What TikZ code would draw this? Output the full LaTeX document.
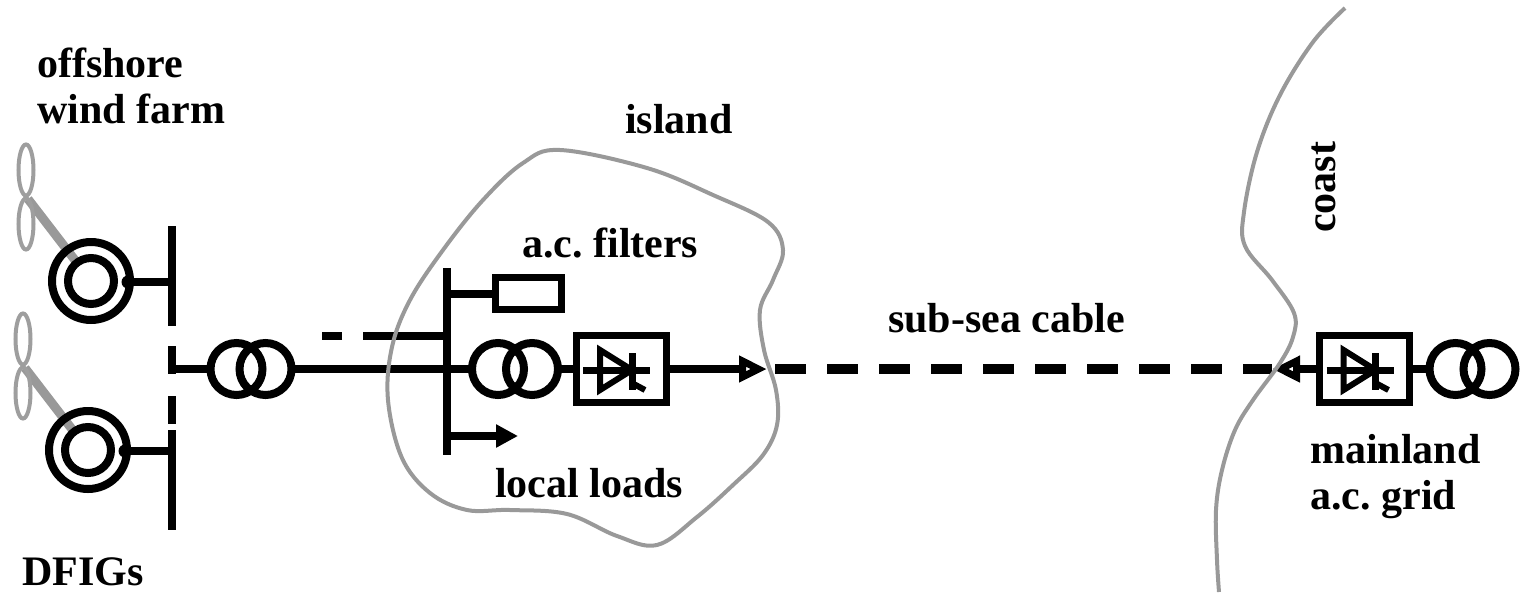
\documentclass[tikz,border=0pt]{standalone}
\usepackage{fontspec}
\setmainfont{Liberation Serif}
\usetikzlibrary{arrows.meta,positioning,calc}

\tikzset{
  pwr/.style={line width=8pt},
  shore/.style={draw=black!40, line width=4pt},
  lbl/.style={font=\fontsize{42}{46}\selectfont\bfseries\frenchspacing, inner sep=0pt, align=left},
  convbox/.style={draw, line width=7pt, minimum width=90pt, minimum height=67pt, inner sep=0pt},
  filtbox/.style={draw, line width=7pt, minimum width=66pt, minimum height=32pt, inner sep=0pt},
  cable/.style={line width=10pt, dash pattern=on 31pt off 21pt, dash phase=44pt},
  opentip/.style={-{Triangle[open, length=28pt, width=25pt, line width=9pt]}},
  % two coupled windings, #1 = half the spacing of the circles
  pics/xfmr/.style={code={
    \draw[pwr] (-#1,0) circle (26pt) (#1,0) circle (26pt);
    \coordinate (-w) at ({-#1-26},0);
    \coordinate (-e) at ({#1+26},0);
  }},
  % thyristor valve
  pics/thy/.style={code={
    \draw[line width=7pt] (-38,1) -- (29,1);
    \draw[line width=6pt, line join=miter] (-21,-19) -- (-21,21) -- (11,1) -- cycle;
    \draw[line width=7pt] (11,-16) -- (11,21);
    \draw[line width=6pt] (11,14) -- (24,21);
  }},
  % doubly fed induction generator with its rotor
  pics/dfig/.style={code={
    \draw[line width=9pt, black!40] (-63,-82) -- (0,0);
    \draw[line width=4pt, black!38] (-65,-111) ellipse (7.5pt and 25.5pt)
                                   (-65,-57) ellipse (7.5pt and 25.5pt);
    \draw[pwr] (0,0) circle (39pt);
    \draw[pwr, fill=white] (0,0) circle (23pt);
    \fill (37,1) circle (6.5pt);
    \coordinate (-out) at (37,1);
  }},
}

\begin{document}
\begin{tikzpicture}[x=1pt,y=-1pt]
\useasboundingbox (0,0) rectangle (1521,595);

% wind farm and its collector bus
\pic (gA) at (91,281) {dfig};
\pic (gB) at (88,450) {dfig};
\coordinate (busL) at (172,226);
\draw[pwr] (busL) -- (172,326) (172,430) -- (172,530);
\draw[pwr, dash pattern=on 28pt off 22pt] (172,346) -- (172,424);
\draw[pwr] (gA-out) -- (gA-out -| busL);
\draw[pwr] (gB-out) -- (gB-out -| busL);
\pic (t1) at (251,369) {xfmr=14.5};
\draw[pwr] (t1-w -| busL) -- (t1-w);

% island bus
\coordinate (busI) at (447,268);
\draw[pwr] (busI) -- (447,455);
\pic (t2) at (515,369) {xfmr=17};
\draw[pwr] (t1-e) -- (t2-w);
\coordinate (feed) at (322,336);
\draw[pwr, dash pattern=on 84pt off 21pt on 20pt off 40pt] (feed -| busI) -- (feed);
\node[filtbox] (filt) at (528.5,293.5) {};
\draw[pwr] (filt.west -| busI) -- (filt.west);
\coordinate (loads) at (518,436);
\draw[pwr, -{Triangle[length=22pt, width=22pt]}] (loads -| busI) -- (loads);

% converter stations and the dc link
\node[convbox] (convI) at (621,369) {};
\pic at (convI) {thy};
\draw[pwr] (t2-e) -- (convI.west);
\coordinate (cabI) at (767,369);
\coordinate (cabM) at (1272,369);
\draw[pwr, opentip] (convI.east) -- (cabI);
\draw[cable] (cabI) -- (cabM);
\node[convbox] (convM) at (1364.5,369) {};
\pic at (convM) {thy};
\draw[pwr, opentip] (convM.west) -- (cabM);
\pic (t3) at (1472.5,369) {xfmr=17};
\draw[pwr] (convM.east) -- (t3-w);

% island and coast outlines
\draw[shore] plot[smooth cycle, tension=0.6] coordinates {
  (560,150) (647,168) (713,195) (768,222) (783,250) (773,280) (760,310)
  (764,350) (776,390) (777,425) (763,455) (733,485) (697,517) (657,545)
  (617,536) (567,514) (510,510) (467,510) (430,493) (402,458) (388,400)
  (392,347) (410,300) (443,250) (483,200) (523,163)};
\draw[shore] plot[smooth, tension=0.6] coordinates {
  (1345,8) (1313,42) (1280,95) (1257,152) (1244,212) (1245,246) (1272,280)
  (1294,313) (1293,337) (1280,363) (1253,400) (1235,430) (1222,470)
  (1216,510) (1217,560) (1219,592)};

% labels
\node[lbl, anchor=base west] (farm) at (37,123) {offshore\\wind farm};
\node[lbl, anchor=base west] (gens) at (22,585) {DFIGs};
\node[lbl, anchor=base west] (isl) at (625,133) {island};
\node[lbl, anchor=base west] (filtl) at (522,257) {a.c. filters};
\node[lbl, anchor=base west] (loadl) at (495,497) {local loads};
\node[lbl, anchor=base west] (cabl) at (888,332) {sub-sea cable};
\node[lbl, anchor=base west, rotate=90] (coast) at (1335,233) {coast};
\node[lbl, anchor=base west] (grid) at (1310,509) {mainland\\a.c. grid};
\end{tikzpicture}
\end{document}
